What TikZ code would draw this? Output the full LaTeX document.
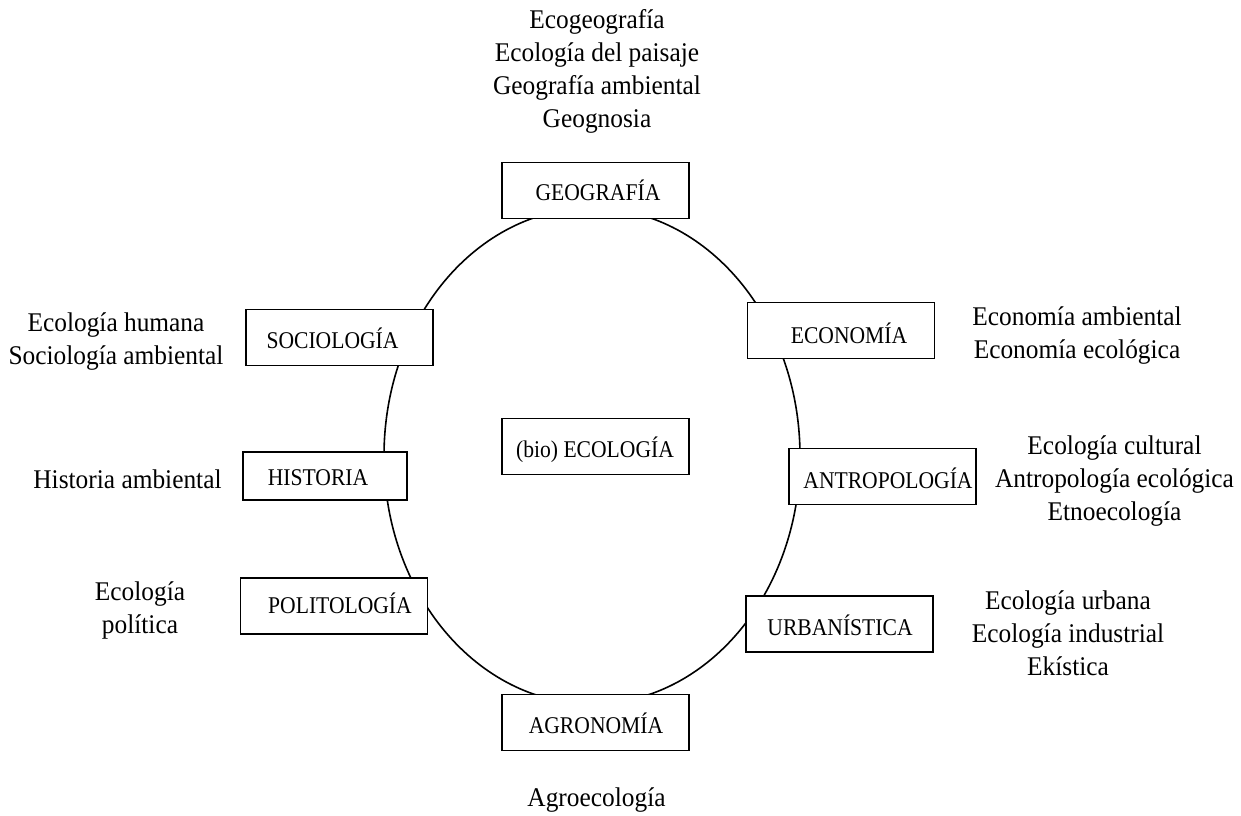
\documentclass[tikz,border=0pt]{standalone}
\usepackage{fontspec}
\setmainfont{Liberation Serif}
\newfontfamily\boxfont{Liberation Serif}[FakeStretch=0.9]
\newfontfamily\outfont{Liberation Serif}[FakeStretch=0.94]
\begin{document}
\begin{tikzpicture}[x=1pt,y=-1pt,
  box/.style={draw, fill=white, line width=1.9pt, inner sep=0pt, minimum width=187pt, minimum height=56pt},
  boxtxt/.style={anchor=base, inner sep=0pt, font=\boxfont\fontsize{24}{28}\selectfont},
  outer/.style={anchor=base, inner sep=0pt, align=center, font=\outfont\fontsize{27}{33}\selectfont}]
\useasboundingbox[fill=white] (0,0) rectangle (1241,815);
\draw[line width=1.6pt] (592,456) ellipse [x radius=208pt, y radius=248pt];
% boxes
\node[box] (geo) at (595.5,190.5) {};
\node[box] (eco) at (841,330.5) {};
\node[box] (antro) at (882.5,476.5) {};
\node[box] (urb) at (839.5,624) {};
\node[box] (agro) at (595.5,722.5) {};
\node[box] (pol) at (334,606) {};
\node[box, minimum width=164pt, minimum height=48pt] (hist) at (325,476) {};
\node[box] (soc) at (339.5,337.5) {};
\node[box] (bio) at (595.5,446.5) {};
% box labels
\node[boxtxt] (geo-t) at (598,200) {GEOGRAFÍA};
\node[boxtxt] (eco-t) at (849,343) {ECONOMÍA};
\node[boxtxt] (antro-t) at (888,488) {ANTROPOLOGÍA};
\node[boxtxt] (urb-t) at (840,635) {URBANÍSTICA};
\node[boxtxt] (agro-t) at (596,733) {AGRONOMÍA};
\node[boxtxt] (pol-t) at (340,613) {POLITOLOGÍA};
\node[boxtxt] (hist-t) at (318,485) {HISTORIA};
\node[boxtxt] (soc-t) at (332.5,348) {SOCIOLOGÍA};
\node[boxtxt] (bio-t) at (595,457) {(bio) ECOLOGÍA};
% outer labels (base = last line)
\node[outer] (geo-l) at (597,127) {Ecogeografía\\Ecología del paisaje\\Geografía ambiental\\Geognosia};
\node[outer] (eco-l) at (1077,358) {Economía ambiental\\Economía ecológica};
\node[outer] (antro-l) at (1114.5,520) {Ecología cultural\\Antropología ecológica\\Etnoecología};
\node[outer] (urb-l) at (1068,675) {Ecología urbana\\Ecología industrial\\Ekística};
\node[outer] (agro-l) at (596.5,806) {Agroecología};
\node[outer] (pol-l) at (140,633) {Ecología\\política};
\node[outer] (hist-l) at (127.5,488) {Historia ambiental};
\node[outer] (soc-l) at (116,364) {Ecología humana\\Sociología ambiental};
\end{tikzpicture}
\end{document}
